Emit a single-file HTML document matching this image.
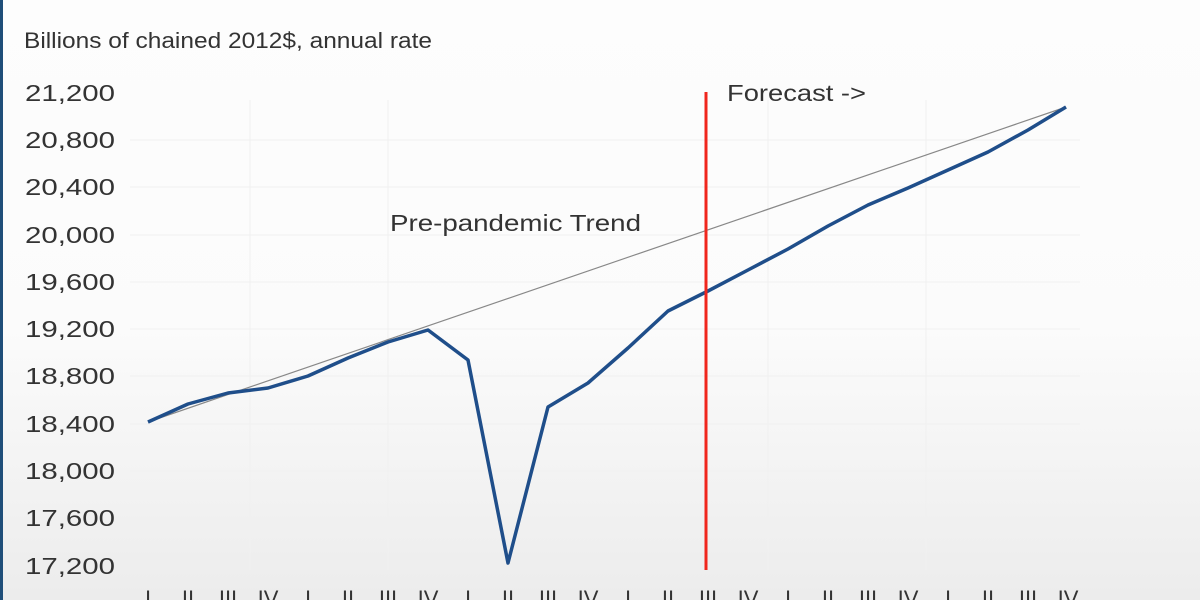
<!DOCTYPE html>
<html><head><style>
body{margin:0;width:1200px;height:600px;overflow:hidden;background:linear-gradient(#fdfdfd 0%,#fbfbfb 55%,#ececec 100%);font-family:"Liberation Sans",sans-serif;}
</style></head><body>
<svg width="1200" height="600" xmlns="http://www.w3.org/2000/svg" style="position:absolute;left:0;top:0">
<rect x="0" y="0" width="3" height="600" fill="#1f4e79"/>
<g stroke="#f0f0f0" stroke-width="1">
<line x1="130" y1="140" x2="1080" y2="140"/><line x1="130" y1="187" x2="1080" y2="187"/>
<line x1="130" y1="235" x2="1080" y2="235"/><line x1="130" y1="282" x2="1080" y2="282"/>
<line x1="130" y1="329" x2="1080" y2="329"/><line x1="130" y1="376" x2="1080" y2="376"/>
<line x1="130" y1="424" x2="1080" y2="424"/><line x1="130" y1="471" x2="1080" y2="471"/>
<line x1="130" y1="518" x2="1080" y2="518"/>
<line x1="250" y1="100" x2="250" y2="570"/><line x1="388" y1="100" x2="388" y2="570"/>
<line x1="768" y1="100" x2="768" y2="570"/><line x1="926" y1="100" x2="926" y2="570"/>
</g>
<text x="24" y="48" font-size="22" fill="#333" textLength="408" lengthAdjust="spacingAndGlyphs">Billions of chained 2012$, annual rate</text>
<g font-size="23" fill="#333">
<text x="25" y="101" textLength="90" lengthAdjust="spacingAndGlyphs">21,200</text><text x="25" y="148" textLength="90" lengthAdjust="spacingAndGlyphs">20,800</text><text x="25" y="195" textLength="90" lengthAdjust="spacingAndGlyphs">20,400</text>
<text x="25" y="243" textLength="90" lengthAdjust="spacingAndGlyphs">20,000</text><text x="25" y="290" textLength="90" lengthAdjust="spacingAndGlyphs">19,600</text><text x="25" y="337" textLength="90" lengthAdjust="spacingAndGlyphs">19,200</text>
<text x="25" y="384" textLength="90" lengthAdjust="spacingAndGlyphs">18,800</text><text x="25" y="432" textLength="90" lengthAdjust="spacingAndGlyphs">18,400</text><text x="25" y="479" textLength="90" lengthAdjust="spacingAndGlyphs">18,000</text>
<text x="25" y="526" textLength="90" lengthAdjust="spacingAndGlyphs">17,600</text><text x="25" y="574" textLength="90" lengthAdjust="spacingAndGlyphs">17,200</text>
</g>
<text x="390" y="231" font-size="23" fill="#333" textLength="251" lengthAdjust="spacingAndGlyphs">Pre-pandemic Trend</text>
<text x="727" y="101" font-size="23" fill="#333" textLength="139" lengthAdjust="spacingAndGlyphs">Forecast -&gt;</text>
<line x1="148" y1="422" x2="1066" y2="107" stroke="#888" stroke-width="1.2"/>
<polyline fill="none" stroke="#1f4e8a" stroke-width="3.5" stroke-linejoin="round" points="148,422 188,404 228,393 268,388 308,376 348,358 388,342 428,330 468,360 508,563 548,407 588,383 628,348 668,311 708,291 748,270 788,249 828,226 868,205 908,188 948,170 988,152 1028,130 1066,107"/>
<line x1="706" y1="92" x2="706" y2="570" stroke="#f0261d" stroke-width="3"/>
<g font-size="22" fill="#333" text-anchor="middle">
<text x="148" y="606">I</text><text x="188" y="606">II</text><text x="228" y="606">III</text><text x="268" y="606">IV</text>
<text x="308" y="606">I</text><text x="348" y="606">II</text><text x="388" y="606">III</text><text x="428" y="606">IV</text>
<text x="468" y="606">I</text><text x="508" y="606">II</text><text x="548" y="606">III</text><text x="588" y="606">IV</text>
<text x="628" y="606">I</text><text x="668" y="606">II</text><text x="708" y="606">III</text><text x="748" y="606">IV</text>
<text x="788" y="606">I</text><text x="828" y="606">II</text><text x="868" y="606">III</text><text x="908" y="606">IV</text>
<text x="948" y="606">I</text><text x="988" y="606">II</text><text x="1028" y="606">III</text><text x="1068" y="606">IV</text>
</g>
</svg>
</body></html>
